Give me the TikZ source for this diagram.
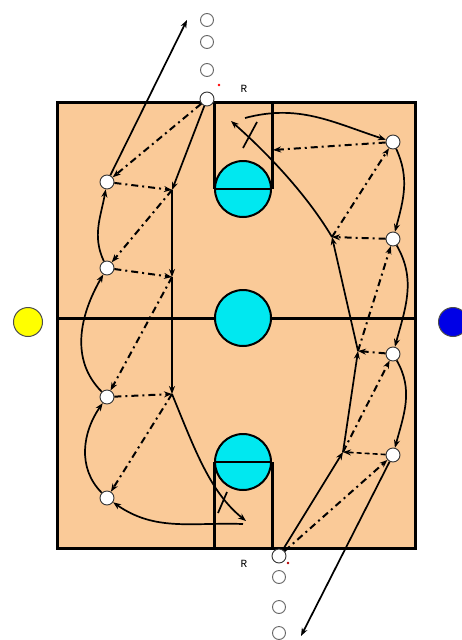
\documentclass[tikz,border=0pt]{standalone}
\usepackage{fontspec}
\newfontfamily\monofont{Liberation Mono}
\usetikzlibrary{arrows.meta}
\definecolor{courtc}{RGB}{250,202,152}
\definecolor{ballc}{RGB}{0,232,240}
\definecolor{yel}{RGB}{255,255,0}
\definecolor{blu}{RGB}{0,0,230}
\begin{document}
\begin{tikzpicture}[x=1pt,y=-1pt,
  courtline/.style={line width=3pt, draw=black},
  ballst/.style={circle, fill=ballc, draw=black, line width=2pt, minimum size=56pt, inner sep=0pt},
  player/.style={circle, draw=black!80, fill=white, line width=0.9pt, minimum size=14pt, inner sep=0pt},
  queue/.style={circle, draw=black!60, fill=white, line width=0.9pt, minimum size=13pt, inner sep=0pt},
  tip/.style={-{Stealth[length=8pt,width=6pt]}},
  run/.style={line width=1.7pt, tip},
  drv/.style={line width=2.5pt, tip},
  pass/.style={line width=2pt, dash pattern=on 7pt off 4pt on 2pt off 4pt, tip},
  dpass/.style={line width=1.6pt, dash pattern=on 5pt off 3pt, tip},
  tick/.style={line width=1.7pt},
  lab/.style={font=\monofont\fontsize{11}{13}\selectfont, inner sep=0pt}
]
\useasboundingbox (0,0) rectangle (461,640);
% court
\fill[courtc] (57,102) rectangle (415,548);
\draw[courtline] (57,318) -- (415,318);
\draw[courtline] (214,102) -- (214,189) (272,102) -- (272,189);
\draw[courtline] (214,462) -- (214,548) (272,462) -- (272,548);
\draw[courtline] (57,102) rectangle (415,548);
% balls
\node[ballst] (ball1) at (243,189) {};
\draw[line width=2pt] (ball1.west) -- (ball1.east);
\node[ballst] (ball2) at (243,318) {};
\node[ballst] (ball3) at (243,462) {};
\draw[line width=2pt] (ball3.west) -- (ball3.east);
% side circles
\node[circle, fill=yel, draw=black!70, line width=1pt, minimum size=29pt, inner sep=0pt] (yc) at (28,322) {};
\node[circle, fill=blu, draw=black!70, line width=1pt, minimum size=29pt, inner sep=0pt] (bc) at (453,322) {};
% labels and red dots
\node[lab] (rt) at (244,89) {R};
\node[lab] (rb) at (244,564) {R};
\fill[red] (219,85) circle (1.3pt);
\fill[red!70!black] (288,563) circle (1.3pt);
% queues
\node[queue] (Q1) at (207,20) {};
\node[queue] (Q2) at (207,42) {};
\node[queue] (Q3) at (207,70) {};
\node[queue] (B2) at (279,577) {};
\node[queue] (B3) at (279,607) {};
\node[queue] (B4) at (279,633) {};
% junction coordinates
\coordinate (JL1) at (172,190);
\coordinate (JL2) at (172,277);
\coordinate (JL3) at (172,394);
\coordinate (JLb) at (246,521);
\coordinate (JLc) at (243,524);
\coordinate (JR1) at (332,237);
\coordinate (JR2) at (358,351);
\coordinate (JR3) at (343,452);
\coordinate (JRt) at (231,121);
\coordinate (JRc) at (245,118);
\coordinate (JRl) at (273,150);
\coordinate (TopEnd) at (187,20);
\coordinate (BotEnd) at (301,636);
% players
\node[player] (Q4) at (207,99) {};
\node[player] (B1) at (279,556) {};
\node[player] (L1) at (107,182) {};
\node[player] (L2) at (107,268) {};
\node[player] (L3) at (107,397) {};
\node[player] (L4) at (107,498) {};
\node[player] (R1) at (393,142) {};
\node[player] (R2) at (393,239) {};
\node[player] (R3) at (393,354) {};
\node[player] (R4) at (393,455) {};
% left side
\draw[run] (Q4) -- (JL1);
\draw[pass] (Q4) -- (L1);
\draw[pass] (L1) -- (JL1);
\draw[drv] (JL1) -- (JL2);
\draw[pass] (JL1) -- (L2);
\draw[pass] (L2) -- (JL2);
\draw[drv] (JL2) -- (JL3);
\draw[pass] (JL2) -- (L3);
\draw[pass] (L3) -- (JL3);
\draw[pass] (JL3) -- (L4);
\draw[run] (JL3) .. controls (195,450) and (210,492) .. (JLb);
\draw[tick] (227,492) -- (218,513);
\draw[run] (JLc) to[out=178, in=-35] (L4);
\draw[run] (L4) to[out=135, in=-125] (L3);
\draw[run] (L3) to[out=135, in=-120] (L2);
\draw[run] (L2) to[out=115, in=-100] (L1);
\draw[run] (L1) -- (TopEnd);
% right side
\draw[run] (B1) -- (JR3);
\draw[pass] (B1) -- (R4);
\draw[dpass] (R4) -- (JR3);
\draw[run] (R4) -- (BotEnd);
\draw[run] (JR3) -- (JR2);
\draw[pass] (JR3) -- (R3);
\draw[pass] (R3) -- (JR2);
\draw[run] (R1) to[out=-65, in=75] (R2);
\draw[run] (R2) to[out=-60, in=75] (R3);
\draw[run] (R3) to[out=-60, in=75] (R4);
\draw[run] (JR2) -- (JR1);
\draw[pass] (JR2) -- (R2);
\draw[pass] (R2) -- (JR1);
\draw[pass] (JR1) -- (R1);
\draw[run] (JR1) .. controls (310,200) and (275,160) .. (JRt);
\draw[tick] (257,122) -- (243,148);
\draw[pass] (R1) -- (JRl);
\draw[run] (JRc) to[out=15, in=162] (R1);
\end{tikzpicture}
\end{document}
